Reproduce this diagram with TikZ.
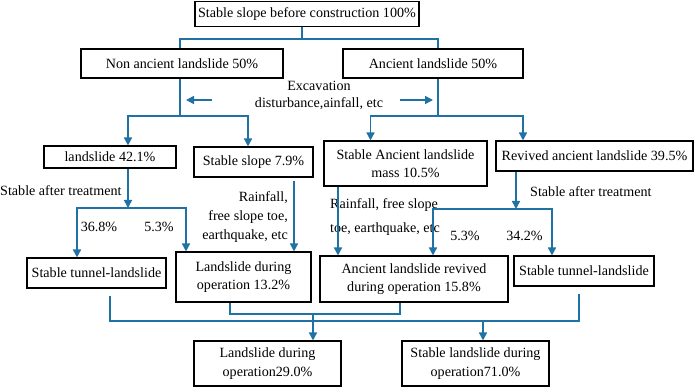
\documentclass[tikz,border=0pt]{standalone}
\usepackage{fontspec}
\setmainfont{Liberation Serif}
\usetikzlibrary{arrows.meta}
\definecolor{lnblue}{RGB}{31,114,163}
\begin{document}
\begin{tikzpicture}[x=1pt,y=-1pt,
  box/.style={draw=black,line width=1.1pt,align=center,inner sep=0pt,font=\fontsize{14.1}{18.5}\selectfont},
  lbl/.style={inner sep=0pt,font=\fontsize{14.1}{19}\selectfont},
  conn/.style={draw=lnblue,line width=1.6pt},
  arr/.style={conn,-{Triangle[width=8pt,length=8pt]}}]
\useasboundingbox (0,0) rectangle (699,387);

% boxes
\node[box,minimum width=224pt,minimum height=25pt] (top) at (307,14) {Stable slope before construction 100\%};
\node[box,minimum width=202pt,minimum height=29pt] (nonanc) at (182,63.5) {Non ancient landslide 50\%};
\node[box,minimum width=180pt,minimum height=29pt] (anc) at (433,63.5) {Ancient landslide 50\%};
\node[box,minimum width=132pt,minimum height=22pt] (ls) at (110,157) {landslide 42.1\%};
\node[box,minimum width=119pt,minimum height=30pt] (ss) at (253.5,162) {Stable slope 7.9\%};
\node[box,minimum width=163pt,minimum height=45pt] (sam) at (405.5,163.5) {Stable Ancient landslide\\mass 10.5\%};
\node[box,minimum width=197pt,minimum height=30pt] (rev) at (594.5,156) {Revived ancient landslide 39.5\%};
\node[box,minimum width=139pt,minimum height=30pt] (stla) at (96.5,273) {Stable tunnel-landslide};
\node[box,minimum width=135pt,minimum height=50pt] (ldo) at (243.5,277) {Landslide during\\operation 13.2\%};
\node[box,minimum width=188pt,minimum height=46pt] (arev) at (414,279) {Ancient landslide revived\\during operation 15.8\%};
\node[box,minimum width=140pt,minimum height=30pt] (stlb) at (584,271) {Stable tunnel-landslide};
\node[box,minimum width=147pt,minimum height=45pt] (bl) at (267.5,363.5) {Landslide during\\operation29.0\%};
\node[box,minimum width=147pt,minimum height=45pt] (br) at (475.5,363.5) {Stable landslide during\\operation71.0\%};

% labels
\node[lbl,align=center,font=\fontsize{14.1}{17}\selectfont] (exc) at (319,95.5) {Excavation\\disturbance,ainfall, etc};
\node[lbl,anchor=west] (sat1) at (0,191) {Stable after treatment};
\node[lbl] (p368) at (99,227) {36.8\%};
\node[lbl] (p53a) at (159,227) {5.3\%};
\node[lbl,align=right,anchor=east] (rain1) at (288,217) {Rainfall,\\free slope toe,\\earthquake, etc};
\node[lbl,align=left,anchor=west,font=\fontsize{14.1}{24}\selectfont] (rain2) at (330,217) {Rainfall, free slope\\toe, earthquake, etc};
\node[lbl,anchor=west] (sat2) at (530,192) {Stable after treatment};
\node[lbl] (p53b) at (465,236) {5.3\%};
\node[lbl] (p342) at (524.5,236) {34.2\%};

% junctions
\coordinate (j0) at (302,39);
\coordinate (j1) at (180,116);
\coordinate (j2) at (437.7,116);
\coordinate (j3) at (128,208);
\coordinate (j4) at (516,209);
\coordinate (j5) at (313,314);
\coordinate (j6) at (483,321);
\coordinate (ea1) at (212,100);
\coordinate (ea2) at (186,100);
\coordinate (eb1) at (400,100);
\coordinate (eb2) at (433,100);

% connectors
\draw[conn] ([xshift=-5pt]top.south) -- (j0);
\draw[conn] ([xshift=-2pt]nonanc.north) |- (j0) -| ([xshift=4.7pt]anc.north);
\draw[conn] ([xshift=-2pt]nonanc.south) -- (j1);
\draw[arr] (j1) -| ([xshift=18pt]ls.north);
\draw[arr] (j1) -| ([xshift=-5.5pt]ss.north);
\draw[conn] ([xshift=4.7pt]anc.south) -- (j2);
\draw[arr] (j2) -| ([xshift=-35pt]sam.north);
\draw[arr] (j2) -| ([xshift=-71.5pt]rev.north);
\draw[arr] (ea1) -- (ea2);
\draw[arr] (eb1) -- (eb2);

\draw[arr] ([xshift=18pt]ls.south) -- (j3);
\draw[arr] (j3) -| ([xshift=-19.5pt]stla.north);
\draw[arr] (j3) -| ([xshift=-57.5pt]ldo.north);
\draw[arr,shorten <=3pt] ([xshift=40.5pt]ss.south) -- ([xshift=50.5pt]ldo.north);
\draw[arr] ([xshift=-67.5pt]sam.south) -- ([xshift=-76pt]arev.north);
\draw[arr] ([xshift=-78.5pt]rev.south) -- (j4);
\draw[arr] (j4) -| ([xshift=19pt]arev.north);
\draw[arr] (j4) -| ([xshift=-32pt]stlb.north);

\draw[conn] ([xshift=-13.5pt]ldo.south) |- (j5) -| ([xshift=-14pt]arev.south);
\draw[arr] (j5) -- ([xshift=45.5pt]bl.north);
\draw[conn,shorten <=7pt,shorten >=7pt] ([xshift=13.5pt]stla.south) |- (j6) -| ([xshift=-5pt]stlb.south);
\draw[arr] (j6) -- ([xshift=7.5pt]br.north);
\end{tikzpicture}
\end{document}
